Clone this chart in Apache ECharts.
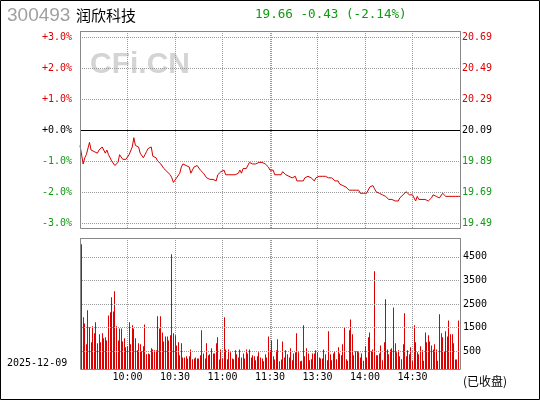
<!DOCTYPE html>
<html>
<head>
<meta charset="utf-8">
<script src="https://cdn.jsdelivr.net/npm/echarts@6/dist/echarts.min.js"></script>
<style>
  html, body { margin: 0; padding: 0; background: #fff; }
  #chart { width: 540px; height: 400px; }
</style>
</head>
<body>
<div id="chart"></div>
<script>
// 昨收
const PREV_CLOSE = 20.09;

// 分时价格 (9:30 ~ 11:30, 13:01 ~ 15:00)
const PRICES = [
  19.99, 19.99, 19.87, 19.91, 19.93, 19.94, 20.01, 19.96, 19.96, 19.95,
  19.94, 19.94, 19.96, 19.97, 19.98, 19.96, 19.94, 19.96, 19.93, 19.91,
  19.89, 19.88, 19.86, 19.87, 19.88, 19.93, 19.92, 19.90, 19.90, 19.90,
  19.90, 19.93, 19.94, 19.98, 20.04, 19.99, 20.00, 19.98, 19.94, 19.94,
  19.91, 19.93, 19.95, 19.97, 19.96, 19.98, 19.92, 19.92, 19.91, 19.89,
  19.88, 19.87, 19.86, 19.84, 19.83, 19.82, 19.81, 19.80, 19.78, 19.75,
  19.74, 19.78, 19.79, 19.81, 19.85, 19.87, 19.87, 19.86, 19.87, 19.85,
  19.81, 19.83, 19.85, 19.85, 19.86, 19.85, 19.83, 19.82, 19.81, 19.80,
  19.78, 19.77, 19.77, 19.76, 19.77, 19.76, 19.76, 19.80, 19.81, 19.82,
  19.82, 19.83, 19.80, 19.80, 19.80, 19.81, 19.80, 19.80, 19.80, 19.80,
  19.81, 19.83, 19.81, 19.84, 19.85, 19.84, 19.85, 19.88, 19.87, 19.87,
  19.88, 19.87, 19.87, 19.88, 19.88, 19.88, 19.87, 19.87, 19.86, 19.85,
  19.83, 19.82, 19.83, 19.80, 19.79, 19.80, 19.80, 19.80, 19.82, 19.81,
  19.80, 19.79, 19.79, 19.79, 19.78, 19.78, 19.79, 19.76, 19.76, 19.76,
  19.76, 19.76, 19.78, 19.79, 19.79, 19.78, 19.78, 19.78, 19.76, 19.78,
  19.78, 19.79, 19.79, 19.79, 19.80, 19.79, 19.78, 19.78, 19.78, 19.78,
  19.77, 19.76, 19.77, 19.76, 19.74, 19.74, 19.73, 19.73, 19.72, 19.71,
  19.70, 19.70, 19.70, 19.70, 19.70, 19.70, 19.70, 19.68, 19.68, 19.68,
  19.68, 19.68, 19.68, 19.72, 19.71, 19.73, 19.71, 19.69, 19.69, 19.68,
  19.67, 19.67, 19.66, 19.66, 19.65, 19.64, 19.63, 19.64, 19.65, 19.63,
  19.62, 19.63, 19.65, 19.66, 19.67, 19.68, 19.69, 19.68, 19.67, 19.67,
  19.67, 19.65, 19.63, 19.66, 19.64, 19.64, 19.64, 19.64, 19.64, 19.64,
  19.63, 19.64, 19.65, 19.67, 19.67, 19.66, 19.66, 19.65, 19.66, 19.68,
  19.67, 19.66, 19.65, 19.66, 19.66, 19.66, 19.66, 19.66, 19.66, 19.66,
  19.66
];

// 分时成交量 (手)
const VOLUMES = [
  460, 5030, 1940, 1680, 800, 2240, 1520, 880, 1560, 1260,
  1730, 840, 1220, 880, 1260, 1050, 1090, 960, 2020, 2150,
  2790, 2190, 3040, 1560, 960, 1470, 1470, 920, 1050, 670,
  710, 1730, 800, 1600, 1470, 1050, 540, 840, 800, 500,
  710, 1640, 370, 410, 370, 630, 580, 540, 540, 1980,
  1470, 1980, 1300, 920, 1130, 1130, 960, 1180, 4610, 1260,
  1180, 750, 880, 330, 840, 240, 240, 290, 200, 290,
  580, 160, 200, 240, 200, 200, 330, 1390, 410, 200,
  840, 330, 370, 630, 410, 410, 840, 1090, 150, 580,
  200, 1940, 580, 160, 580, 460, 200, 160, 540, 370,
  240, 580, 240, 410, 200, 580, 410, 580, 240, 330,
  290, 120, 290, 460, 240, 200, 75, 370, 240, 1130,
  540, 960, 290, 150, 540, 1010, 75, 150, 920, 240,
  540, 370, 240, 630, 120, 410, 460, 1260, 460, 75,
  100, 1600, 290, 630, 410, 120, 160, 410, 410, 540,
  460, 240, 200, 200, 580, 370, 120, 1350, 370, 120,
  410, 500, 160, 670, 410, 330, 800, 1520, 160, 100,
  1390, 1850, 1220, 330, 500, 500, 460, 240, 410, 100,
  710, 240, 1090, 1300, 500, 580, 3890, 330, 330, 410,
  750, 120, 880, 2700, 580, 370, 580, 630, 2360, 840,
  460, 540, 290, 160, 800, 2110, 290, 540, 370, 670,
  100, 1600, 880, 460, 370, 710, 540, 100, 1300, 880,
  1180, 920, 750, 580, 800, 580, 100, 2070, 1260, 1090,
  500, 1350, 1130, 1810, 1220, 1220, 840, 150, 150, 1810,
  900
];

// 刻度
const PCT_TICKS = [3, 2, 1, 0, -1, -2, -3];
const VOL_TICKS = [500, 1500, 2500, 3500, 4500];
const TIME_TICK_INDEX = [30, 60, 90, 120, 150, 180, 210];
const TIME_TICK_LABELS = ['10:00', '10:30', '11:00', '11:30', '13:30', '14:00', '14:30'];

// 坐标范围 (上下各留一点空白)
const PCT_MIN = -3.161;
const PCT_MAX = 3.194;
const VOL_MIN = -250;
const VOL_MAX = 5300;

const RED = '#dd0000';
const GREEN = '#119911';
const GRID_LINE = { color: '#9a9a9a', type: [1, 1], width: 1 };
const MONO = 'DejaVu Sans Mono';

// 分钟类目
function minuteLabel(i) {
   const t = i <= 120 ? 9 * 60 + 30 + i : 13 * 60 + (i - 120);
   const h = Math.floor(t / 60);
   const m = t % 60;
   return `${h}:${m < 10 ? '0' + m : m}`;
}
const TIMES = PRICES.map((_, i) => minuteLabel(i));

const priceTicks = PCT_TICKS.map((p) => PREV_CLOSE * (1 + p / 100));

function signColor(v, base) {
   if (Math.abs(v - base) < 1e-6) return '#000';
   return v > base ? RED : GREEN;
}

function text(id, x, y, str, font, fill, extra) {
   return Object.assign({
      type: 'text', id, x, y, silent: true,
      style: { text: str, font, fill, verticalAlign: 'middle', textVerticalAlign: 'middle' },
   }, extra || {});
}

const chart = echarts.init(document.getElementById('chart'), null, { renderer: 'canvas' });

const option = {
   animation: false,
   backgroundColor: '#fff',
   grid: [
      { left: 80, top: 31, width: 380, height: 197, show: false, outerBoundsMode: 'none', containLabel: false },
      { left: 80, top: 238, width: 380, height: 131, show: false, outerBoundsMode: 'none', containLabel: false },
   ],
   xAxis: [
      {
         type: 'category',
         gridIndex: 0,
         data: TIMES,
         boundaryGap: false,
         axisLine: { show: false },
         axisTick: { show: false },
         axisLabel: { show: false },
         splitLine: {
            show: true,
            interval: (i) => i % 30 === 0 || i === 121,
            lineStyle: GRID_LINE,
         },
      },
      {
         type: 'category',
         gridIndex: 1,
         data: TIMES,
         boundaryGap: false,
         axisLine: { show: false },
         axisTick: { show: false },
         axisLabel: {
            show: true,
            interval: (i) => TIME_TICK_INDEX.includes(i),
            formatter: (v, i) => TIME_TICK_LABELS[TIME_TICK_INDEX.indexOf(i)] || '',
            margin: 3,
            color: '#000',
            fontFamily: MONO,
            fontSize: 10,
         },
         splitLine: {
            show: true,
            interval: (i) => i % 30 === 0 || i === 121,
            lineStyle: GRID_LINE,
         },
      },
   ],
   yAxis: [
      {
         type: 'value',
         gridIndex: 0,
         position: 'left',
         min: PCT_MIN,
         max: PCT_MAX,
         axisLine: { show: false },
         axisTick: { show: false, customValues: PCT_TICKS },
         splitLine: { show: true, lineStyle: GRID_LINE },
         axisLabel: {
            customValues: PCT_TICKS,
            formatter: (v) => (v < 0 ? '' : '+') + v.toFixed(1) + '%',
            color: (v) => signColor(v, 0),
            margin: 8,
            fontFamily: MONO,
            fontSize: 10,
         },
      },
      {
         type: 'value',
         gridIndex: 0,
         position: 'right',
         min: PREV_CLOSE * (1 + PCT_MIN / 100),
         max: PREV_CLOSE * (1 + PCT_MAX / 100),
         axisLine: { show: false },
         axisTick: { show: false, customValues: priceTicks },
         splitLine: { show: false },
         axisLabel: {
            customValues: priceTicks,
            formatter: (v) => v.toFixed(2),
            color: (v) => signColor(v, PREV_CLOSE),
            margin: 2,
            fontFamily: MONO,
            fontSize: 10,
         },
      },
      {
         // 成交量轴: 网格线由 markLine 画, 刻度文字用 convertToPixel 放
         type: 'value',
         gridIndex: 1,
         position: 'right',
         min: VOL_MIN,
         max: VOL_MAX,
         axisLine: { show: false },
         axisTick: { show: false },
         splitLine: { show: false },
         axisLabel: { show: false },
      },
   ],
   series: [
      {
         type: 'line',
         xAxisIndex: 0,
         yAxisIndex: 1,
         data: PRICES,
         showSymbol: false,
         lineStyle: { color: '#d40000', width: 1 },
         markLine: {
            silent: true,
            symbol: 'none',
            label: { show: false },
            lineStyle: { color: '#000', type: 'solid', width: 1 },
            data: [{ yAxis: PREV_CLOSE }],
         },
         z: 3,
      },
      {
         type: 'custom',
         xAxisIndex: 1,
         yAxisIndex: 2,
         data: VOLUMES.map((v, i) => [i, v]),
         encode: { x: 0, y: 1 },
         clip: true,
         renderItem: (params, api) => {
            const top = api.coord([api.value(0), api.value(1)]);
            const base = api.coord([api.value(0), VOL_MIN]);
            return {
               type: 'rect',
               shape: { x: Math.floor(top[0]), y: top[1], width: 1, height: base[1] - top[1] },
               style: { fill: RED },
            };
         },
         markLine: {
            silent: true,
            symbol: 'none',
            lineStyle: GRID_LINE,
            label: { show: false },
            data: VOL_TICKS.map((v) => ({ yAxis: v })),
         },
      },
   ],
};

chart.setOption(option);

// 所有 graphic 一次性给出 (成交量刻度的位置取自成交量轴)
const graphics = [
   // 水印
   text('wm', 90, 65, 'CFi.CN', 'bold 30px "Liberation Sans"', '#d4d4d4', { z: -10 }),
   // 标题
   text('code', 7, 16, '300493', '19px "Liberation Sans"', '#a0a0a0'),
   text('name', 76, 15, '润欣科技', '15px "Noto Sans CJK SC"', '#000'),
   text('quote', 255, 15, '19.66 -0.43 (-2.14%)', `12.6px "${MONO}"`, GREEN),
   text('date', 7, 363, '2025-12-09', `10px "${MONO}"`, '#000'),
   text('status', 463, 381, '(已收盘)', '12px "Noto Sans CJK SC"', '#000'),
   // 边框
   {
      type: 'rect', id: 'box-price', z: 10, silent: true,
      shape: { x: 80.5, y: 31.5, width: 380, height: 197 },
      style: { fill: null, stroke: '#888', lineWidth: 1 },
   },
   {
      type: 'rect', id: 'box-vol', z: 10, silent: true,
      shape: { x: 80.5, y: 238.5, width: 380, height: 131 },
      style: { fill: null, stroke: '#888', lineWidth: 1 },
   },
   {
      type: 'rect', id: 'box-all', z: 10, silent: true,
      shape: { x: 0.5, y: 0.5, width: 539, height: 399 },
      style: { fill: null, stroke: '#000', lineWidth: 1 },
   },
];
VOL_TICKS.forEach((v) => {
   const y = chart.convertToPixel({ yAxisIndex: 2 }, v);
   graphics.push(text('vol-' + v, 463, y, String(v), `10px "${MONO}"`, '#000', { z: 20 }));
});
chart.setOption({ graphic: graphics });
</script>
</body>
</html>
